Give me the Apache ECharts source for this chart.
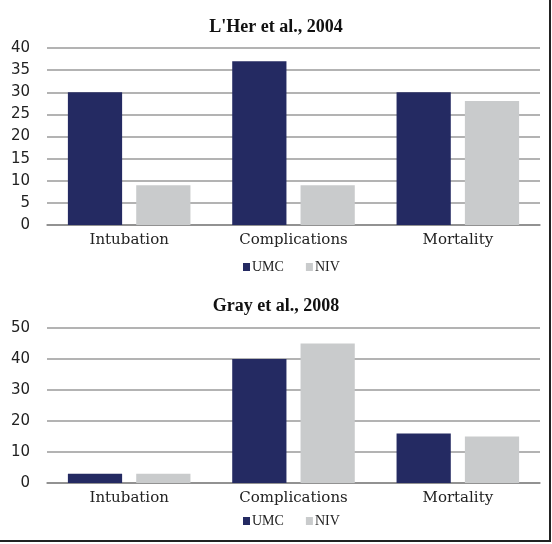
<!DOCTYPE html>
<html><head><meta charset="utf-8">
<script src="https://cdn.jsdelivr.net/npm/echarts@6/dist/echarts.min.js"></script>
<style>html,body{margin:0;padding:0;background:#fff}#c{width:552px;height:544px;position:relative}
#bd{position:absolute;left:0;top:0;width:549px;height:540px;border-right:2px solid #222;border-bottom:2px solid #222;pointer-events:none}</style>
</head><body><div id="c"></div><div id="bd"></div>
<script>
const categories = ['Intubation', 'Complications', 'Mortality'];
const seriesNames = ['UMC', 'NIV'];
const title1 = "L'Her et al., 2004";
const title2 = 'Gray et al., 2008';
const umc2004 = [30, 37, 30];
const niv2004 = [9, 9, 28];
const umc2008 = [3, 40, 16];
const niv2008 = [3, 45, 15];
const yTicks1 = { min: 0, max: 40, interval: 5 };
const yTicks2 = { min: 0, max: 50, interval: 10 };

const navy = '#242a62', grey = '#c9cbcc';
const chart = echarts.init(document.getElementById('c'), null, {renderer: 'canvas'});
const catFont = { fontFamily: 'DejaVu Serif', fontSize: 15, color: '#222' };
const yFont = { fontFamily: 'DejaVu Sans', fontSize: 15, color: '#222' };
function xAxis(i) {
  return { type: 'category', gridIndex: i, data: categories,
    axisLine: { lineStyle: { color: '#888', width: 1.5 } }, axisTick: { show: false },
    axisLabel: Object.assign({ margin: 8 }, catFont) };
}
function yAxis(i, t) {
  return { type: 'value', gridIndex: i, min: t.min, max: t.max, interval: t.interval,
    axisLine: { show: false }, axisTick: { show: false },
    splitLine: { lineStyle: { color: '#9a9a9a', width: 1.5 } },
    axisLabel: Object.assign({ margin: 17 }, yFont) };
}
function bar(name, data, i, color) {
  return { type: 'bar', name: name, data: data, xAxisIndex: i, yAxisIndex: i,
    barWidth: '33%', barGap: '26%', itemStyle: { color: color } };
}
function legend(top) {
  return { data: seriesNames, left: 243, top: top, padding: 0, itemWidth: 7, itemHeight: 8, itemGap: 22, icon: 'rect',
    textStyle: { fontFamily: 'Liberation Serif', fontSize: 14, color: '#222', padding: [0, 0, 0, -3] }, selectedMode: false };
}
chart.setOption({
  animation: false,
  title: [
    { text: title1, left: 'center', top: 13, textStyle: { fontFamily: 'Liberation Serif', fontWeight: 'bold', fontSize: 18, color: '#111' } },
    { text: title2, left: 'center', top: 292, textStyle: { fontFamily: 'Liberation Serif', fontWeight: 'bold', fontSize: 18, color: '#111' } }
  ],
  legend: [legend(260), legend(514)],
  grid: [
    { left: 47, top: 48, width: 493, height: 177 },
    { left: 47, top: 328, width: 493, height: 155 }
  ],
  xAxis: [xAxis(0), xAxis(1)],
  yAxis: [yAxis(0, yTicks1), yAxis(1, yTicks2)],
  series: [
    bar(seriesNames[0], umc2004, 0, navy), bar(seriesNames[1], niv2004, 0, grey),
    bar(seriesNames[0], umc2008, 1, navy), bar(seriesNames[1], niv2008, 1, grey)
  ]
});
</script></body></html>
